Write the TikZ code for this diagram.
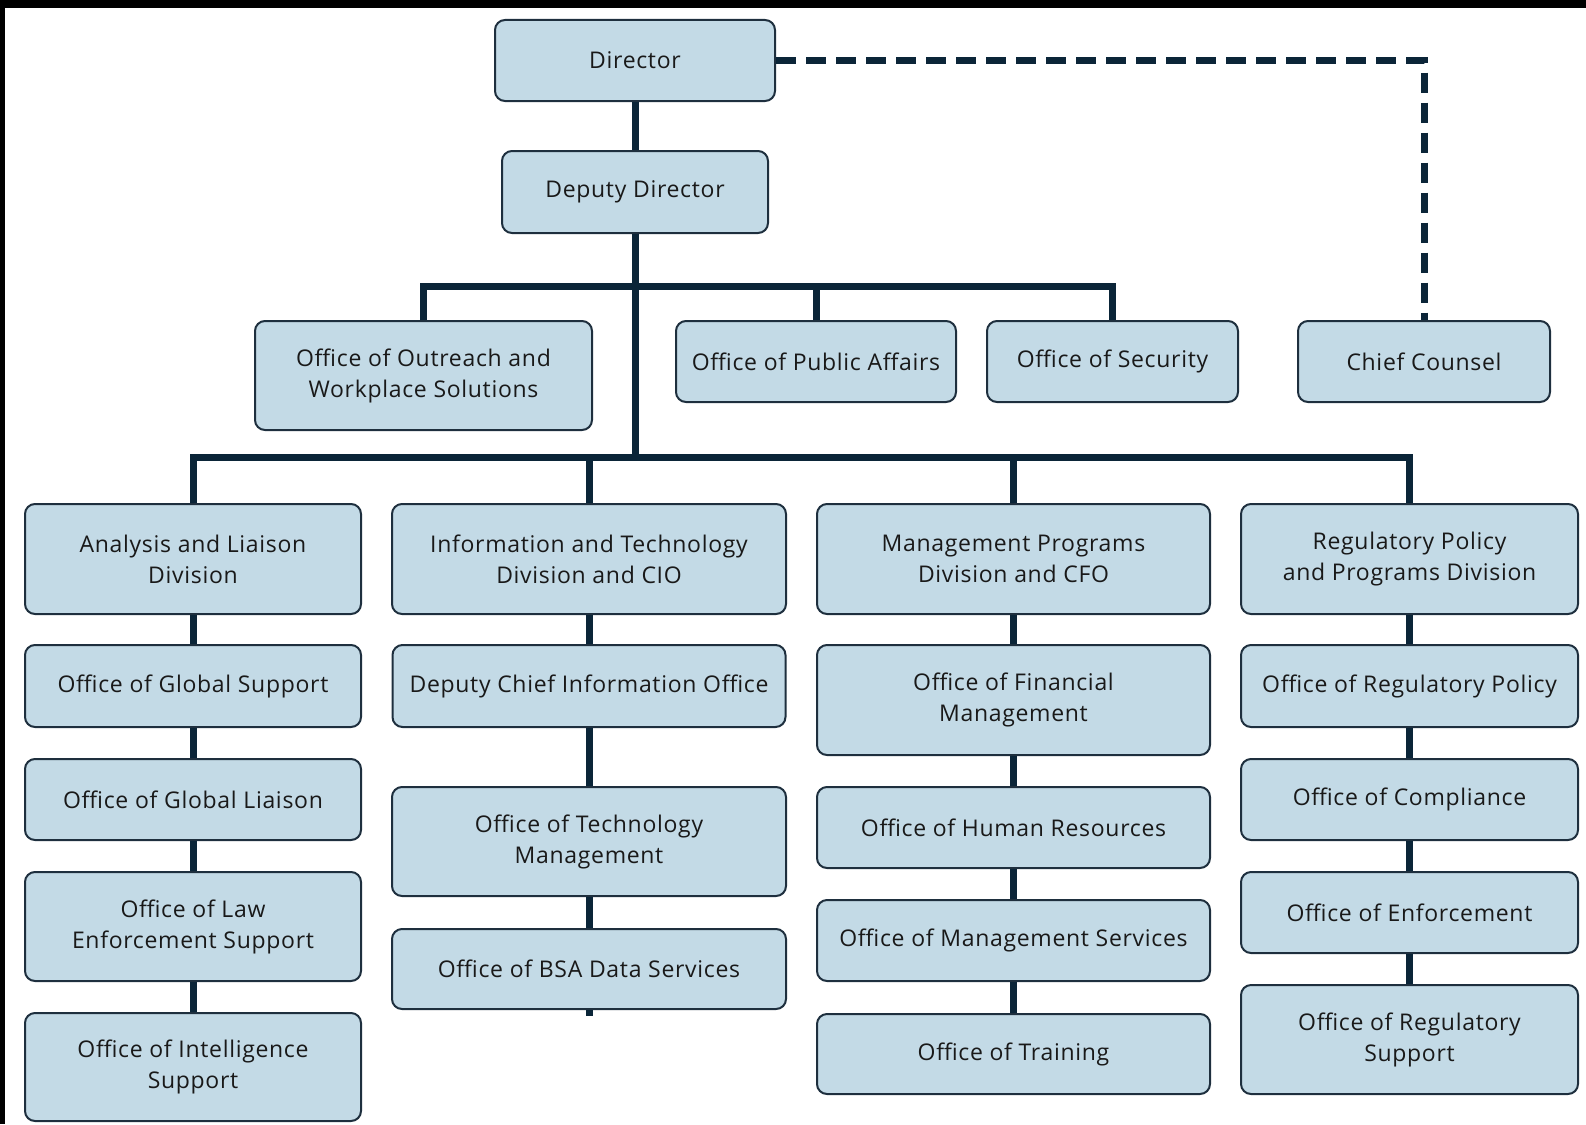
\documentclass[tikz,border=0pt]{standalone}
\usepackage{fontspec}
\setmainfont{Open Sans}[LetterSpace=3]
\definecolor{boxfill}{HTML}{C3DAE6}
\definecolor{boxline}{HTML}{1E2F3E}
\definecolor{navy}{HTML}{0B2538}
\begin{document}
\begin{tikzpicture}[x=1pt, y=-1pt,
	unit/.style={draw=boxline, line width=2pt, fill=boxfill, rounded corners=10pt,
		align=center, inner sep=0pt, text=black!90,
		font=\fontsize{23}{31}\selectfont},
	link/.style={navy, line width=7pt},
	dashlink/.style={navy, line width=7pt, dash pattern=on 20pt off 10pt}]
	\useasboundingbox (0, 0) rectangle (1586, 1124);
	\fill[black] (0, 0) rectangle (1586, 8);
	\fill[black] (0, 0) rectangle (5, 1124);
	% top
	\node[unit, minimum width=280, minimum height=81] (dir) at (635, 60.5) {Director};
	\node[unit, minimum width=266, minimum height=82] (dep) at (635, 192) {Deputy Director};
	\node[unit, minimum width=337, minimum height=109] (outreach) at (423.5, 375.5) {Office of Outreach and\\Workplace Solutions};
	\node[unit, minimum width=280, minimum height=81] (public) at (816, 361.5) {Office of Public Affairs};
	\node[unit, minimum width=251, minimum height=81] (security) at (1112.5, 361.5) {Office of Security};
	\node[unit, minimum width=252, minimum height=81] (chief) at (1424, 361.5) {Chief Counsel};
	% divisions
	\node[unit, minimum width=336, minimum height=110] (ald) at (193, 559) {Analysis and Liaison\\Division};
	\node[unit, minimum width=394, minimum height=110] (itd) at (589, 559) {Information and Technology\\Division and CIO};
	\node[unit, minimum width=393, minimum height=110] (mpd) at (1013.5, 559) {Management Programs\\Division and CFO};
	\node[unit, minimum width=337, minimum height=110] (rpd) at (1409.5, 559) {Regulatory Policy\\and Programs Division};
	% column 1
	\node[unit, minimum width=336, minimum height=82] (gsup) at (193, 686) {Office of Global Support};
	\node[unit, minimum width=336, minimum height=81] (gliai) at (193, 799.5) {Office of Global Liaison};
	\node[unit, minimum width=336, minimum height=109] (lesup) at (193, 926.5) {Office of Law\\Enforcement Support};
	\node[unit, minimum width=336, minimum height=108] (isup) at (193, 1067) {Office of Intelligence\\Support};
	% column 2
	\node[unit, minimum width=393, minimum height=82] (dcio) at (589, 686) {Deputy Chief Information Office};
	\node[unit, minimum width=394, minimum height=109] (tman) at (589, 841.5) {Office of Technology\\Management};
	\node[unit, minimum width=394, minimum height=80] (bsa) at (589, 969) {Office of BSA Data Services};
	% column 3
	\node[unit, minimum width=393, minimum height=110] (fman) at (1013.5, 700) {Office of Financial\\Management};
	\node[unit, minimum width=393, minimum height=81] (hres) at (1013.5, 827.5) {Office of Human Resources};
	\node[unit, minimum width=393, minimum height=81] (mserv) at (1013.5, 940.5) {Office of Management Services};
	\node[unit, minimum width=393, minimum height=80] (train) at (1013.5, 1054) {Office of Training};
	% column 4
	\node[unit, minimum width=337, minimum height=82] (rpol) at (1409.5, 686) {Office of Regulatory Policy};
	\node[unit, minimum width=337, minimum height=81] (comp) at (1409.5, 799.5) {Office of Compliance};
	\node[unit, minimum width=337, minimum height=81] (enf) at (1409.5, 912.5) {Office of Enforcement};
	\node[unit, minimum width=337, minimum height=109] (rsup) at (1409.5, 1039.5) {Office of Regulatory\\Support};
	% links
	\coordinate (busa) at (635, 286);
	\coordinate (busb) at (635, 457);
	\coordinate (bsaend) at (589, 1016);
	\draw[link] (dir) -- (dep);
	\draw[link] (dep) -- (busb);
	\draw[link] (outreach) |- (busa) -| (security);
	\draw[link] (public) -- (public |- busa);
	\draw[link] (ald) |- (busb) -| (rpd);
	\draw[link] (itd) -- (itd |- busb);
	\draw[link] (mpd) -- (mpd |- busb);
	\draw[dashlink] (dir) -| (chief);
	\draw[link] (ald) -- (gsup) -- (gliai) -- (lesup) -- (isup);
	\draw[link] (itd) -- (dcio) -- (tman) -- (bsa) -- (bsaend);
	\draw[link] (mpd) -- (fman) -- (hres) -- (mserv) -- (train);
	\draw[link] (rpd) -- (rpol) -- (comp) -- (enf) -- (rsup);
\end{tikzpicture}
\end{document}
